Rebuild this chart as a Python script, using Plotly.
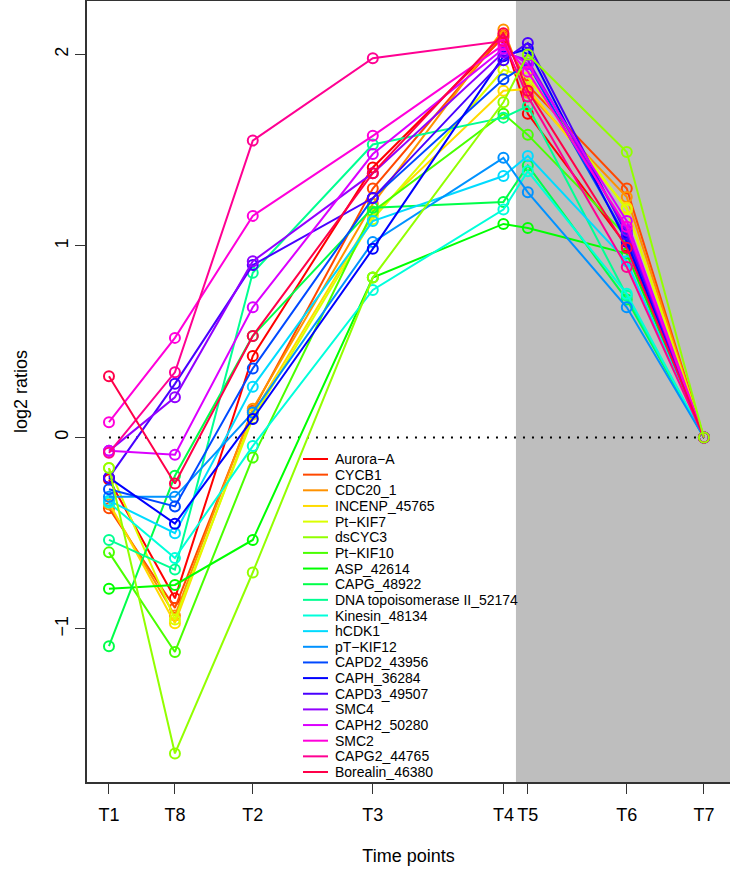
import colorsys
import plotly.graph_objects as go

# ---- data ----
time_labels = ["T1", "T8", "T2", "T3", "T4", "T5", "T6", "T7"]
time_pos = [0, 1, 2.18, 4.0, 5.98, 6.35, 7.85, 9.02]

gene_names = [
    "Aurora\u2212A", "CYCB1", "CDC20_1", "INCENP_45765", "Pt\u2212KIF7", "dsCYC3",
    "Pt\u2212KIF10", "ASP_42614", "CAPG_48922", "DNA topoisomerase II_52174",
    "Kinesin_48134", "hCDK1", "pT\u2212KIF12", "CAPD2_43956", "CAPH_36284",
    "CAPD3_49507", "SMC4", "CAPH2_50280", "SMC2", "CAPG2_44765", "Borealin_46380",
]

aurora_a = [-0.22, -0.84, 0.425, 1.41, 2.09, 1.69, 1.00, 0]
cycb1 = [-0.37, -0.89, 0.14, 1.30, 2.10, 1.84, 1.30, 0]
cdc20 = [-0.35, -0.93, 0.15, 1.22, 2.13, 1.80, 1.255, 0]
incenp = [-0.34, -0.97, 0.12, 1.16, 1.81, 1.82, 1.20, 0]
pt_kif7 = [-0.16, -0.95, 0.10, 1.14, 1.92, 1.88, 1.19, 0]
dscyc3 = [-0.16, -1.65, -0.705, 0.835, 1.75, 2.00, 1.49, 0]
pt_kif10 = [-0.60, -1.12, -0.105, 1.18, 1.69, 1.58, 1.05, 0]
asp = [-0.79, -0.77, -0.535, 0.835, 1.115, 1.094, 0.96, 0]
capg = [-1.09, -0.20, 0.53, 1.20, 1.23, 1.42, 0.72, 0]
dna_topo = [-0.535, -0.69, 0.86, 1.53, 1.67, 1.73, 0.74, 0]
kinesin = [-0.34, -0.63, -0.045, 0.77, 1.19, 1.39, 0.75, 0]
hcdk1 = [-0.33, -0.50, 0.265, 1.13, 1.365, 1.47, 0.92, 0]
pt_kif12 = [-0.31, -0.31, 0.13, 1.02, 1.46, 1.28, 0.68, 0]
capd2 = [-0.27, -0.36, 0.36, 1.25, 1.87, 1.95, 1.04, 0]
caph = [-0.21, -0.45, 0.097, 0.985, 1.99, 2.03, 1.02, 0]
capd3 = [-0.21, 0.28, 0.90, 1.25, 1.97, 2.06, 1.06, 0]
smc4 = [-0.07, 0.21, 0.92, 1.38, 2.01, 1.97, 1.08, 0]
caph2 = [-0.07, -0.09, 0.68, 1.48, 2.03, 1.95, 1.13, 0]
smc2 = [0.08, 0.52, 1.157, 1.575, 2.05, 1.91, 1.10, 0]
capg2 = [-0.08, 0.34, 1.55, 1.98, 2.07, 1.78, 0.89, 0]
borealin = [0.32, -0.24, 0.53, 1.38, 2.11, 1.81, 0.99, 0]

series_values = [aurora_a, cycb1, cdc20, incenp, pt_kif7, dscyc3, pt_kif10, asp,
                 capg, dna_topo, kinesin, hcdk1, pt_kif12, capd2, caph, capd3,
                 smc4, caph2, smc2, capg2, borealin]

y_ticks = [-1, 0, 1, 2]
shade_start = 6.17  # between T4 and T5

# ---- colours: R rainbow(21) ----
n = len(gene_names)
colors = []
for i in range(n):
    r, g, b = colorsys.hsv_to_rgb(i / n, 1, 1)
    colors.append("#%02X%02X%02X" % (round(r * 255), round(g * 255), round(b * 255)))

# ---- layout geometry (pixels) ----
W, H = 730, 872
L, R_, T, B = 87, 0, 1, 90
pw, ph = W - L - R_, H - T - B

x_min, x_max = -0.333, 9.415
y_min, y_max = -1.799, 2.279

fig = go.Figure()

# zero reference line
fig.add_trace(go.Scatter(
    x=[time_pos[0], time_pos[-1]], y=[0, 0], mode="lines",
    line=dict(color="black", width=2, dash="2px,7px"),
    showlegend=False, hoverinfo="skip"))

# drawing order: dsCYC3 ends up on top at the converging point
order = [i for i in range(n) if i != 5] + [5]
for i in order:
    col = colors[i]
    fig.add_trace(go.Scatter(
        x=time_pos, y=series_values[i], mode="lines+markers", name=gene_names[i],
        line=dict(color=col, width=2),
        marker=dict(symbol="circle-open", size=10, color=col,
                    line=dict(color=col, width=2)),
        showlegend=False))

# grey shaded region
fig.add_shape(type="rect", xref="x", yref="paper", x0=shade_start, x1=x_max,
              y0=0, y1=1, fillcolor="#BEBEBE", line=dict(width=0), layer="below")

# manual legend
leg_x0, leg_x1, leg_tx = 303, 328, 333
leg_y0, leg_dy = 459, 15.65
for i, (name, col) in enumerate(zip(gene_names, colors)):
    py = leg_y0 + i * leg_dy
    yp = (H - B - py) / ph
    fig.add_shape(type="line", xref="paper", yref="paper",
                  x0=(leg_x0 - L) / pw, x1=(leg_x1 - L) / pw, y0=yp, y1=yp,
                  line=dict(color=col, width=2))
    fig.add_annotation(x=(leg_tx - L) / pw, y=yp, xref="paper", yref="paper",
                       text=name, showarrow=False, xanchor="left", yanchor="middle",
                       font=dict(family="Liberation Sans, Arial, sans-serif",
                                 size=14, color="black"))

font_main = dict(family="Liberation Sans, Arial, sans-serif", size=18, color="black")

fig.update_layout(
    width=W, height=H,
    margin=dict(l=L, r=R_, t=T, b=B, autoexpand=False),
    paper_bgcolor="white", plot_bgcolor="white",
    font=font_main,
    xaxis=dict(range=[x_min, x_max], tickmode="array", tickvals=time_pos,
               ticktext=time_labels, ticks="outside", ticklen=10, tickwidth=1,
               tickcolor="#333333", showgrid=False, zeroline=False,
               showline=True, linecolor="#333333", linewidth=1.5, mirror=True,
               ticklabelstandoff=6, automargin=False,
               title=dict(text="Time points", font=font_main, standoff=25)),
    yaxis=dict(range=[y_min, y_max], tickmode="array", tickvals=y_ticks,
               ticks="outside", ticklen=10, tickwidth=1, tickcolor="#333333",
               showgrid=False, zeroline=False, showline=True,
               linecolor="#333333", linewidth=1.5, tickangle=-90,
               ticklabelstandoff=0, automargin=False,
               title=dict(text="log2 ratios", font=font_main, standoff=20)),
)

fig.write_html("out.html",
               config={"displayModeBar": False},
               post_script="document.body.style.margin='0';"
                           "document.body.style.padding='0';")
